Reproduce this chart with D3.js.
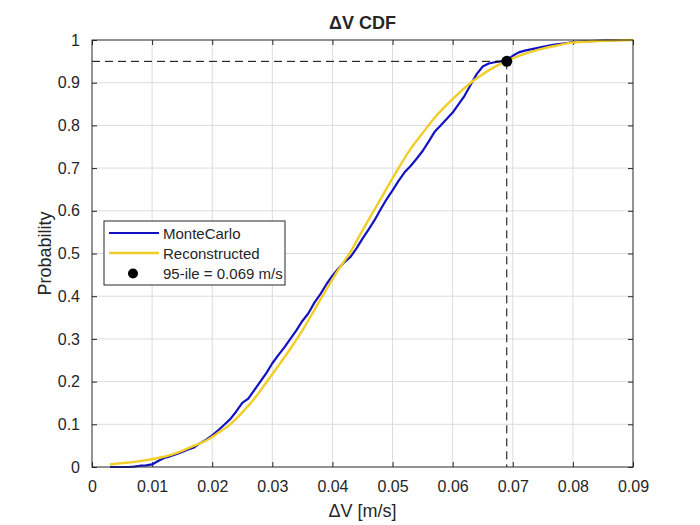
<!DOCTYPE html>
<html lang="en">
  <head>
    <meta charset="utf-8">
    <title>dV CDF</title>
    <script src="https://d3js.org/d3.v7.min.js"></script>
    <style>
      body{ margin: 0; background: #fff; }
      text{ font-family: "Liberation Sans", Arial, sans-serif; fill: #262626; }
    </style>
  </head>
  <body>
    <script>
      let mcX = [0.003,0.004,0.005,0.006,0.007,0.008,0.009,0.010,0.011,0.012,0.013,0.014,0.015,0.016,0.017,0.018,0.019,0.020,
                 0.021,0.022,0.023,0.024,0.025,0.026,0.027,0.028,0.029,0.030,0.031,0.032,0.033,0.034,0.035,0.036,0.037,0.038,
                 0.039,0.040,0.041,0.042,0.043,0.044,0.045,0.046,0.047,0.048,0.049,0.050,0.051,0.052,0.053,0.054,0.055,0.056,
                 0.057,0.058,0.059,0.060,0.061,0.062,0.063,0.064,0.065,0.066,0.067,0.068,0.069,0.070,0.071,0.072,0.073,0.074,
                 0.075,0.076,0.077,0.078,0.079,0.080,0.082,0.084,0.086,0.088];
      let mcP = [0,0,0,0,0.001,0.003,0.004,0.006,0.014,0.021,0.025,0.030,0.035,0.041,0.046,0.056,0.064,0.074,
                 0.086,0.099,0.112,0.130,0.150,0.160,0.180,0.200,0.220,0.243,0.262,0.280,0.300,0.320,0.342,0.360,0.385,0.405,
                 0.428,0.448,0.465,0.480,0.492,0.512,0.535,0.556,0.578,0.603,0.627,0.648,0.670,0.690,0.705,0.722,0.740,0.762,
                 0.785,0.800,0.815,0.830,0.850,0.870,0.895,0.920,0.938,0.945,0.948,0.950,0.953,0.963,0.971,0.975,0.978,0.981,
                 0.984,0.987,0.989,0.991,0.993,0.995,0.997,0.998,0.999,1.000];

      // reconstructed CDF
      let recX = [0.003,0.005,0.007,0.009,0.011,0.013,0.015,0.017,0.019,0.021,0.023,0.025,0.027,0.029,0.031,0.033,0.035,
                  0.037,0.039,0.041,0.043,0.045,0.047,0.049,0.051,0.053,0.055,0.057,0.059,0.061,0.063,0.065,0.067,0.069,
                  0.071,0.073,0.075,0.077,0.079,0.081,0.083,0.085,0.087,0.090];
      let recP = [0.006,0.009,0.012,0.016,0.021,0.028,0.038,0.050,0.062,0.080,0.100,0.128,0.160,0.198,0.237,0.277,0.320,
                  0.368,0.416,0.462,0.504,0.554,0.603,0.652,0.700,0.745,0.782,0.818,0.848,0.875,0.900,0.920,0.937,0.951,
                  0.963,0.972,0.980,0.986,0.992,0.995,0.997,0.998,0.999,1.000];

      let pct95 = [0.069, 0.95];
      let xTicks = [0,0.01,0.02,0.03,0.04,0.05,0.06,0.07,0.08,0.09];
      let yTicks = [0,0.1,0.2,0.3,0.4,0.5,0.6,0.7,0.8,0.9,1];
      let names = ["MonteCarlo", "Reconstructed", "95-ile = 0.069 m/s"];

      let W = 700, H = 525;
      let margin = {top: 40, right: 67, bottom: 58, left: 92};
      let width = W - margin.left - margin.right,
          height = H - margin.top - margin.bottom;

      let svg = d3.select("body").append("svg")
                  .attr("width", W).attr("height", H);
      let g = svg.append("g")
                 .attr("transform", "translate(" + margin.left + "," + margin.top + ")");

      let x = d3.scaleLinear().domain([0, 0.09]).range([0, width]);
      let y = d3.scaleLinear().domain([0, 1]).range([height, 0]);

      // grid
      g.append("g").selectAll("line").data(xTicks.slice(1, -1)).enter().append("line")
        .attr("x1", d => x(d)).attr("x2", d => x(d))
        .attr("y1", 0).attr("y2", height)
        .attr("stroke", "#dcdcdc").attr("stroke-width", 1);
      g.append("g").selectAll("line").data(yTicks.slice(1, -1)).enter().append("line")
        .attr("y1", d => y(d)).attr("y2", d => y(d))
        .attr("x1", 0).attr("x2", width)
        .attr("stroke", "#dcdcdc").attr("stroke-width", 1);

      // axes (ticks inside, box on)
      let fmt = d => d === 0 ? "0" : (d === 1 ? "1" : String(+d.toFixed(2)));
      let styleAxis = function(sel) {
        sel.select(".domain").remove();
        sel.selectAll(".tick line").attr("stroke", "#262626");
        sel.selectAll(".tick text").style("font-size", "16px").attr("fill", "#262626");
      };
      g.append("g").attr("transform", "translate(0," + height + ")")
        .call(d3.axisBottom(x).tickValues(xTicks).tickFormat(fmt).tickSizeInner(-5).tickPadding(14))
        .call(styleAxis);
      g.append("g")
        .call(d3.axisTop(x).tickValues(xTicks).tickFormat("").tickSizeInner(-5))
        .call(styleAxis);
      g.append("g")
        .call(d3.axisLeft(y).tickValues(yTicks).tickFormat(fmt).tickSizeInner(-5).tickPadding(12))
        .call(styleAxis);
      g.append("g").attr("transform", "translate(" + width + ",0)")
        .call(d3.axisRight(y).tickValues(yTicks).tickFormat("").tickSizeInner(-5))
        .call(styleAxis);

      // lines
      let mcData = mcX.map((d, i) => [d, mcP[i]]);
      let recData = recX.map((d, i) => [d, recP[i]]);
      let line = d3.line().x(d => x(d[0])).y(d => y(d[1]));
      let smooth = d3.line().x(d => x(d[0])).y(d => y(d[1])).curve(d3.curveMonotoneX);

      g.append("path").datum(mcData).attr("d", line)
        .attr("fill", "none").attr("stroke", "#1212c2").attr("stroke-width", 2.2)
        .attr("stroke-linejoin", "round");
      g.append("path").datum(recData).attr("d", smooth)
        .attr("fill", "none").attr("stroke", "#f1cd26").attr("stroke-width", 2.4);

      // 95th percentile marker
      g.append("line")
        .attr("x1", x(0)).attr("x2", x(pct95[0]))
        .attr("y1", y(pct95[1])).attr("y2", y(pct95[1]))
        .attr("stroke", "#000").attr("stroke-width", 1).attr("stroke-dasharray", "8,5");
      g.append("line")
        .attr("x1", x(pct95[0])).attr("x2", x(pct95[0]))
        .attr("y1", y(pct95[1])).attr("y2", y(0))
        .attr("stroke", "#000").attr("stroke-width", 1).attr("stroke-dasharray", "8,5");
      g.append("circle")
        .attr("cx", x(pct95[0])).attr("cy", y(pct95[1])).attr("r", 5.5).attr("fill", "#000");

      // box
      g.append("rect").attr("width", width).attr("height", height)
        .attr("fill", "none").attr("stroke", "#262626").attr("stroke-width", 1);

      // labels
      svg.append("text").attr("x", margin.left + width / 2).attr("y", 29)
        .attr("text-anchor", "middle").style("font-size", "18px").style("font-weight", "bold")
        .text("\u0394V CDF");
      svg.append("text").attr("x", margin.left + width / 2).attr("y", 517)
        .attr("text-anchor", "middle").style("font-size", "18px")
        .text("\u0394V [m/s]");
      svg.append("text").attr("transform", "translate(51," + (margin.top + height / 2) + ") rotate(-90)")
        .attr("text-anchor", "middle").style("font-size", "18px")
        .text("Probability");

      // legend
      let lg = svg.append("g").attr("transform", "translate(104,221)");
      lg.append("rect").attr("width", 181).attr("height", 64)
        .attr("fill", "#fff").attr("stroke", "#262626").attr("stroke-width", 1);
      let rows = [12, 32, 52.5];
      lg.append("line").attr("x1", 5).attr("x2", 55).attr("y1", rows[0]).attr("y2", rows[0])
        .attr("stroke", "#1212c2").attr("stroke-width", 2.2);
      lg.append("line").attr("x1", 5).attr("x2", 55).attr("y1", rows[1]).attr("y2", rows[1])
        .attr("stroke", "#f1cd26").attr("stroke-width", 2.4);
      lg.append("circle").attr("cx", 29).attr("cy", rows[2]).attr("r", 5).attr("fill", "#000");
      lg.selectAll("text.lab").data(names).enter().append("text")
        .attr("class", "lab")
        .attr("x", 59).attr("y", (d, i) => rows[i] + 5.5)
        .style("font-size", "15px")
        .text(d => d);
    </script>
  </body>
</html>
